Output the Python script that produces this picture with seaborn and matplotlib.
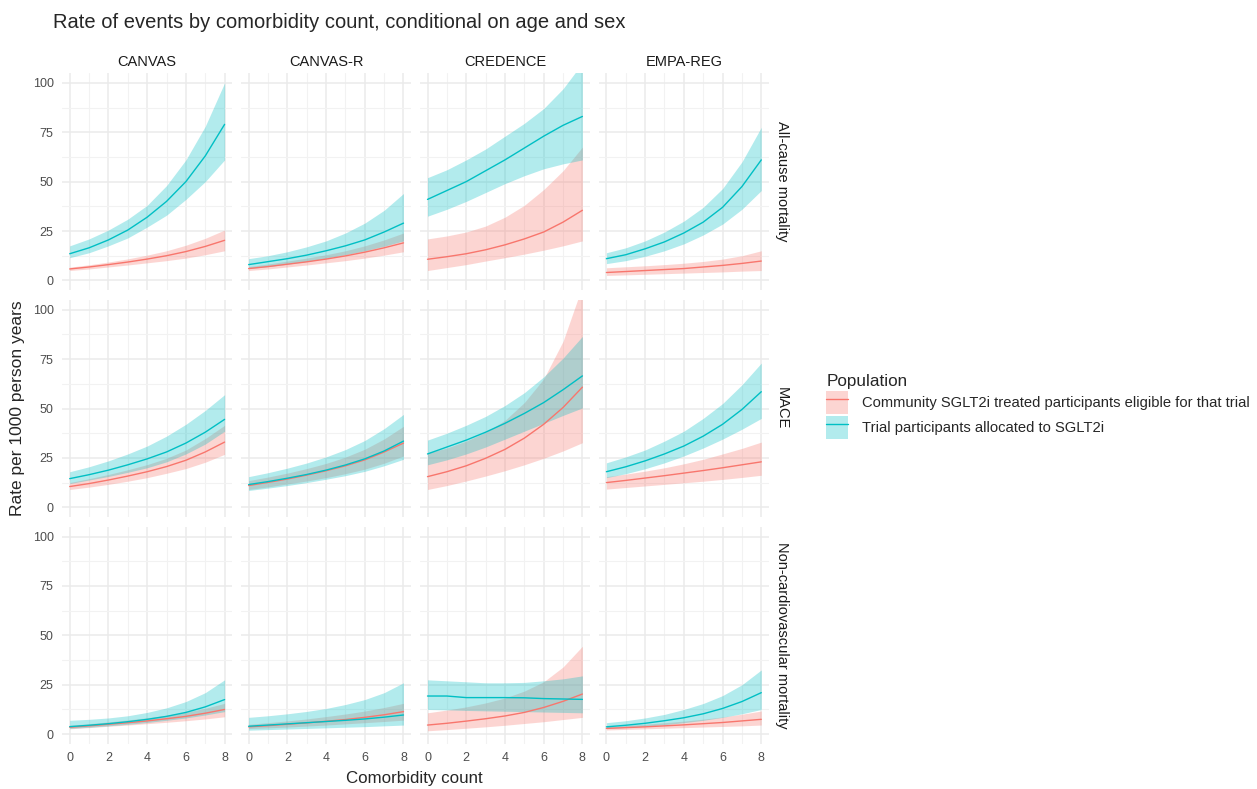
import numpy as np
import pandas as pd
import matplotlib.pyplot as plt
import seaborn as sns
from matplotlib.patches import Patch
from matplotlib.lines import Line2D

# comorbidity count 0..8, rates per 1000 person years
x = [0, 1, 2, 3, 4, 5, 6, 7, 8]
trials = ['CANVAS', 'CANVAS-R', 'CREDENCE', 'EMPA-REG']
outcomes = ['All-cause mortality', 'MACE', 'Non-cardiovascular mortality']
populations = ['Community SGLT2i treated participants eligible for that trial',
               'Trial participants allocated to SGLT2i']

# All-cause mortality (rows: CANVAS, CANVAS-R, CREDENCE, EMPA-REG)
acm_trial_mid = [[13.5, 16.5, 20.5, 25.5, 32, 40, 50, 63, 79],
                 [8, 9.5, 11, 12.8, 15, 17.5, 20.5, 24.5, 29],
                 [41, 45.5, 50, 55.5, 61, 67, 73, 78.5, 83],
                 [11, 13, 16, 19.5, 24, 29.5, 37, 47.5, 61]]
acm_trial_lo = [[11.5, 14, 17.5, 21.5, 27, 33, 41, 50, 61],
                [6, 7, 8.2, 9.6, 11.2, 13, 15, 17.3, 20],
                [32.5, 36, 40, 44.5, 49, 53, 56.5, 59, 61],
                [8.5, 10, 12.2, 15, 18.5, 23, 28.5, 36, 45.5]]
acm_trial_hi = [[17.5, 21, 25.5, 31, 38, 48, 61, 78, 100],
                [11, 12.5, 14.5, 17, 20, 24, 29, 35.5, 44],
                [52, 56, 61, 66.5, 73, 79.5, 87, 97, 110],
                [14, 16.5, 20, 24.5, 30, 37, 46.5, 60, 77.5]]
acm_comm_mid = [[5.8, 6.8, 8, 9.3, 10.8, 12.5, 14.6, 17.2, 20.3],
                [6, 7, 8.2, 9.4, 10.8, 12.4, 14.3, 16.5, 19],
                [10.7, 12, 13.5, 15.5, 18, 21, 24.5, 29.5, 35.5],
                [4, 4.5, 5, 5.5, 6, 6.8, 7.6, 8.6, 9.8]]
acm_comm_lo = [[5, 5.8, 6.8, 7.8, 8.9, 10, 11.3, 13, 15],
               [5, 5.8, 6.8, 7.8, 8.9, 10, 11.3, 12.8, 14.5],
               [5, 6.5, 8, 9.8, 11.5, 13.3, 15.3, 17.5, 20],
               [2.5, 2.8, 3.1, 3.4, 3.7, 4, 4.3, 4.7, 5]]
acm_comm_hi = [[6.7, 7.9, 9.3, 10.9, 12.8, 15, 17.8, 21.3, 25.5],
               [7, 8.3, 9.8, 11.3, 13, 15, 17.5, 20.5, 24],
               [21, 22.5, 24.5, 27.5, 32, 38, 46, 55.5, 67.5],
               [6.4, 6.9, 7.4, 8, 8.7, 9.6, 10.8, 12.5, 15]]

# MACE
mace_trial_mid = [[14.5, 16.5, 18.8, 21.5, 24.5, 28, 32.5, 38, 44.5],
                  [11.5, 13, 14.7, 16.6, 18.8, 21.4, 24.5, 28.5, 33.5],
                  [27, 30.5, 34, 38, 42.5, 47.5, 53, 59.5, 66.5],
                  [18, 20.5, 23.5, 27, 31, 36, 42, 49.5, 58.5]]
mace_trial_lo = [[12, 13.8, 15.6, 17.7, 20, 23, 27, 32, 38.5],
                 [8.5, 9.7, 11, 12.5, 14.2, 16, 18.2, 21, 24.3],
                 [21.5, 24, 27, 30.5, 34.5, 38.5, 42.5, 46.5, 50.3],
                 [15, 17, 19.5, 22.5, 26, 30, 34.5, 39.5, 45]]
mace_trial_hi = [[18, 20.5, 23.5, 27, 31, 36, 42, 49, 57],
                 [15.5, 17.5, 19.8, 22.4, 25.5, 29.2, 33.8, 39.8, 47],
                 [34, 37.5, 41.5, 46, 51.5, 58, 66, 75.5, 86.5],
                 [22.5, 25.5, 29, 33.5, 38.5, 45, 52.5, 62, 73]]
mace_comm_mid = [[10.5, 12, 13.8, 15.8, 18, 20.6, 23.8, 28, 33],
                 [11, 12.6, 14.3, 16.3, 18.5, 21, 24, 28, 32.5],
                 [15.5, 18, 21, 24.8, 29.3, 35, 42, 50.5, 60.8],
                 [12.5, 13.6, 14.8, 16, 17.3, 18.6, 20, 21.5, 23]]
mace_comm_lo = [[9, 10.2, 11.6, 13.2, 15, 17.2, 19.6, 22.8, 26.8],
                [9, 10.3, 11.8, 13.3, 15, 17, 19.3, 22.3, 26],
                [9, 11, 13.3, 15.8, 18.5, 21.5, 24.8, 28.5, 32.7],
                [9.2, 10, 10.8, 11.6, 12.4, 13.2, 14.1, 15.1, 16.2]]
mace_comm_hi = [[12.5, 14.5, 16.6, 19, 21.6, 24.8, 29, 34.8, 41.5],
                [13.5, 15.3, 17.3, 19.6, 22.2, 25.4, 29.4, 34.6, 41],
                [27.5, 30, 33.5, 38, 44, 53, 65, 84, 112],
                [15.5, 16.8, 18.3, 20, 22, 24.3, 27, 29.8, 33]]

# Non-cardiovascular mortality
ncv_trial_mid = [[3.8, 4.5, 5.3, 6.3, 7.5, 9, 11, 13.8, 17.5],
                 [4, 4.6, 5.2, 5.8, 6.4, 7, 7.7, 8.6, 9.7],
                 [19.3, 19.3, 18.5, 18.5, 18.5, 18.4, 18, 17.8, 17.6],
                 [3.7, 4.5, 5.5, 6.8, 8.3, 10.3, 13, 16.5, 21]]
ncv_trial_lo = [[2.9, 3.5, 4.2, 5, 5.9, 7, 8.2, 9.7, 11.4],
                [2, 2.3, 2.6, 2.9, 3.2, 3.5, 3.8, 4.2, 4.6],
                [12.5, 12.3, 12, 11.8, 11.6, 11.4, 11.2, 11, 10.8],
                [2.9, 3.4, 4, 4.8, 5.8, 7, 8.5, 10.3, 12.5]]
ncv_trial_hi = [[7, 7.5, 8.2, 9.3, 11, 13.3, 16.5, 21, 27.5],
                [8.5, 9.3, 10.3, 11.5, 13, 15, 17.5, 21, 26],
                [27.5, 27, 26.5, 26, 26, 26.2, 27, 28, 29.5],
                [5.8, 6.8, 8.2, 10, 12.5, 15.5, 19.5, 25, 32.5]]
ncv_comm_mid = [[3.5, 4.2, 5, 5.8, 6.7, 7.8, 9, 10.6, 12.5],
                [3.7, 4.3, 5, 5.7, 6.5, 7.4, 8.5, 9.8, 11.4],
                [4.6, 5.5, 6.6, 7.8, 9.2, 11, 13.5, 16.6, 20.3],
                [2.9, 3.3, 3.7, 4.2, 4.7, 5.3, 5.9, 6.7, 7.5]]
ncv_comm_lo = [[2.7, 3.3, 4, 4.6, 5.3, 6, 6.8, 7.7, 8.8],
               [2.8, 3.2, 3.6, 4.1, 4.6, 5.2, 5.8, 6.4, 7.1],
               [1.7, 2.3, 3, 3.7, 4.5, 5.4, 6.3, 7.4, 8.5],
               [2.1, 2.4, 2.7, 3, 3.3, 3.6, 3.9, 4.2, 4.6]]
ncv_comm_hi = [[4.5, 5.3, 6.2, 7.2, 8.3, 9.6, 11.1, 13.1, 15.6],
               [5, 5.8, 6.7, 7.7, 8.9, 10.2, 11.7, 13.5, 15.6],
               [10.8, 12.2, 13.8, 15.8, 18.3, 21.8, 26.5, 34, 44.5],
               [3.8, 4.4, 5, 5.8, 6.6, 7.6, 8.7, 10.1, 11.7]]

# build long table
series = {
    'All-cause mortality': [(acm_comm_mid, acm_comm_lo, acm_comm_hi),
                            (acm_trial_mid, acm_trial_lo, acm_trial_hi)],
    'MACE': [(mace_comm_mid, mace_comm_lo, mace_comm_hi),
             (mace_trial_mid, mace_trial_lo, mace_trial_hi)],
    'Non-cardiovascular mortality': [(ncv_comm_mid, ncv_comm_lo, ncv_comm_hi),
                                     (ncv_trial_mid, ncv_trial_lo, ncv_trial_hi)],
}
rows = []
for outcome in outcomes:
    for p, (mid, lo, hi) in zip(populations, series[outcome]):
        for t, trial in enumerate(trials):
            for i, xv in enumerate(x):
                rows.append((outcome, trial, p, xv, mid[t][i], lo[t][i], hi[t][i]))
df = pd.DataFrame(rows, columns=['outcome', 'trial', 'population', 'count', 'rate', 'lo', 'hi'])

palette = {populations[0]: '#F8766D', populations[1]: '#00BFC4'}

sns.set_theme(style="whitegrid")
plt.rcParams['font.family'] = ['Liberation Sans', 'DejaVu Sans']

fig, axes = plt.subplots(3, 4, figsize=(12.57, 7.89), dpi=100, sharex=True, sharey=True)
fig.subplots_adjust(left=0.0493, right=0.6118, top=0.9075, bottom=0.057, wspace=0.05, hspace=0.044)

for r, outcome in enumerate(outcomes):
    for c, trial in enumerate(trials):
        ax = axes[r, c]
        sub = df[(df['outcome'] == outcome) & (df['trial'] == trial)]
        for p in populations:
            d = sub[sub['population'] == p]
            ax.fill_between(d['count'], d['lo'], d['hi'], color=palette[p], alpha=0.3, linewidth=0)
        sns.lineplot(data=sub, x='count', y='rate', hue='population', palette=palette,
                     linewidth=1, legend=False, ax=ax)
        ax.set_xlim(-0.4, 8.4)
        ax.set_ylim(-5, 105)
        ax.set_xticks([0, 2, 4, 6, 8])
        ax.set_xticks([1, 3, 5, 7], minor=True)
        ax.set_yticks([0, 25, 50, 75, 100])
        ax.set_yticks([12.5, 37.5, 62.5, 87.5], minor=True)
        ax.grid(which='major', color='#EBEBEB', linewidth=1.1)
        ax.grid(which='minor', color='#F2F2F2', linewidth=0.8)
        ax.set_facecolor('white')
        for s in ax.spines.values():
            s.set_visible(False)
        ax.tick_params(which='both', length=0, labelsize=9, labelcolor='#4D4D4D', pad=6)
        ax.set_xlabel('')
        ax.set_ylabel('')
        if r == 0:
            ax.set_title(trial, fontsize=10.5, color='#1A1A1A', pad=5)
        if c == 3:
            ax.text(1.035, 0.5, outcome, transform=ax.transAxes, rotation=-90,
                    ha='left', va='center', fontsize=10.5, color='#1A1A1A')

fig.text(0.330, 0.004, 'Comorbidity count', ha='center', va='bottom', fontsize=12.2)
fig.text(0.008, 0.483, 'Rate per 1000 person years', ha='left', va='center', rotation=90, fontsize=12.5)
fig.text(0.042, 0.984, 'Rate of events by comorbidity count, conditional on age and sex',
         ha='left', va='top', fontsize=14.5)

handles = [(Patch(facecolor=palette[p], alpha=0.3, edgecolor='none'),
            Line2D([], [], color=palette[p], linewidth=1)) for p in populations]
leg = fig.legend(handles, populations, loc='upper left', bbox_to_anchor=(0.6468, 0.543),
                 title='Population', frameon=False, fontsize=10.6, title_fontsize=12.3,
                 handlelength=1.5, handleheight=2.0, labelspacing=0.15, handletextpad=0.9)
leg._legend_box.align = 'left'

fig.savefig('out.png', dpi=100, facecolor='white')
